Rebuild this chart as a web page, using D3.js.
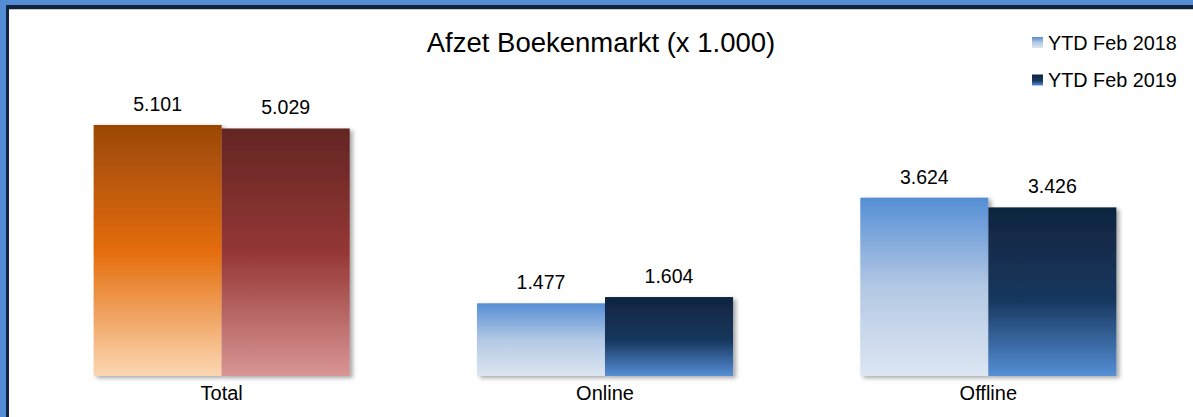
<!DOCTYPE html>
<html>
<head>
<meta charset="utf-8">
<script src="https://cdn.jsdelivr.net/npm/d3@7"></script>
<style>
  html, body { margin: 0; padding: 0; background: #fff; }
  svg { display: block; font-family: "Liberation Sans", Arial, sans-serif; }
</style>
</head>
<body>
<svg id="chart" width="1193" height="417"></svg>
<script>
// Book market sales, in thousands of units
const categories = ["Total", "Online", "Offline"];
const seriesNames = ["YTD Feb 2018", "YTD Feb 2019"];
const values2018 = [5101, 1477, 3624];
const values2019 = [5029, 1604, 3426];
const titleText = "Afzet Boekenmarkt (x 1.000)";

const W = 1193, H = 417;
const svg = d3.select("#chart");
const defs = svg.append("defs");

// Gradients: orange/red for the total, blues for the channels
function gradient(id, stops) {
  const g = defs.append("linearGradient").attr("id", id)
    .attr("x1", 0).attr("y1", 0).attr("x2", 0).attr("y2", 1);
  stops.forEach(([o, c]) => g.append("stop").attr("offset", o).attr("stop-color", c));
}
gradient("gOrange", [[0, "#9a4806"], [0.5, "#e46c0a"], [1, "#fcd7b3"]]);
gradient("gRed", [[0, "#632523"], [0.5, "#953735"], [1, "#d99694"]]);
gradient("gLight", [[0, "#558ed5"], [0.5, "#b3c8e4"], [1, "#dde6f2"]]);
gradient("gNavy", [[0, "#10243f"], [0.55, "#17375e"], [1, "#558ed5"]]);

const shadow = defs.append("filter").attr("id", "shadow")
  .attr("x", "-10%").attr("y", "-10%").attr("width", "130%").attr("height", "130%");
shadow.append("feDropShadow").attr("dx", 3).attr("dy", 2).attr("stdDeviation", 2)
  .attr("flood-color", "#000").attr("flood-opacity", 0.35);

// Frame
svg.append("rect").attr("x", 0).attr("y", 0).attr("width", W).attr("height", H).attr("fill", "#548dd4");
svg.append("rect").attr("x", 6).attr("y", 5).attr("width", W).attr("height", H).attr("fill", "#10243f");
svg.append("rect").attr("x", 9).attr("y", 9).attr("width", W).attr("height", H).attr("fill", "#c8c8c8");
svg.append("rect").attr("x", 9).attr("y", 10).attr("width", W).attr("height", H).attr("fill", "#ffffff");

// Scales
const baseY = 376;
const x0 = d3.scaleBand().domain(categories).range([30, 1180]).paddingInner(0.332).paddingOuter(0.166);
const x1 = d3.scaleBand().domain(seriesNames).range([0, x0.bandwidth()]);
const y = d3.scaleLinear().domain([0, 6000]).range([baseY, 80.7]);

const nl = d3.formatLocale({ decimal: ",", thousands: ".", grouping: [3], currency: ["€", ""] });
const fmt = nl.format(",d");

const rows = categories.map((c, i) => ({
  category: c,
  bars: [
    { series: seriesNames[0], value: values2018[i] },
    { series: seriesNames[1], value: values2019[i] }
  ]
}));

function fillFor(cat, s) {
  if (cat === "Total") return s === seriesNames[0] ? "url(#gOrange)" : "url(#gRed)";
  return s === seriesNames[0] ? "url(#gLight)" : "url(#gNavy)";
}

// Axis baseline
const axisG = svg.append("g").attr("transform", `translate(0,${baseY})`)
  .call(d3.axisBottom(x0).tickSize(0).tickPadding(10));
axisG.select(".domain").attr("stroke", "#9a9a9a").attr("stroke-width", 1.6).attr("filter", "url(#shadow)");
axisG.selectAll(".tick text").attr("font-size", 20).attr("fill", "#000")
  .attr("font-family", "Liberation Sans, Arial, sans-serif");

// Bars
const groups = svg.append("g").selectAll("g").data(rows).join("g")
  .attr("transform", d => `translate(${x0(d.category)},0)`);

groups.selectAll("rect").data(d => d.bars.map(b => ({ ...b, category: d.category }))).join("rect")
  .attr("x", d => x1(d.series))
  .attr("y", d => y(d.value))
  .attr("width", x1.bandwidth())
  .attr("height", d => baseY - y(d.value))
  .attr("fill", d => fillFor(d.category, d.series))
  .attr("filter", "url(#shadow)");

groups.selectAll("text.val").data(d => d.bars).join("text")
  .attr("class", "val")
  .attr("x", d => x1(d.series) + x1.bandwidth() / 2)
  .attr("y", d => y(d.value) - 14)
  .attr("text-anchor", "middle")
  .attr("font-size", 19.5)
  .attr("fill", "#000")
  .text(d => fmt(d.value));

// Title
svg.append("text").attr("x", 601).attr("y", 52).attr("text-anchor", "middle")
  .attr("font-size", 27.5).attr("fill", "#000").text(titleText);

// Legend
const legend = svg.append("g").attr("transform", "translate(1032,37)");
const li = legend.selectAll("g").data(seriesNames).join("g")
  .attr("transform", (d, i) => `translate(0,${i * 37.5})`);
li.append("rect").attr("width", 11).attr("height", 11)
  .attr("fill", (d, i) => i === 0 ? "url(#gLight)" : "url(#gNavy)");
li.append("text").attr("x", 16).attr("y", 12.5).attr("font-size", 19.8).attr("fill", "#000").text(d => d);
</script>
</body>
</html>
